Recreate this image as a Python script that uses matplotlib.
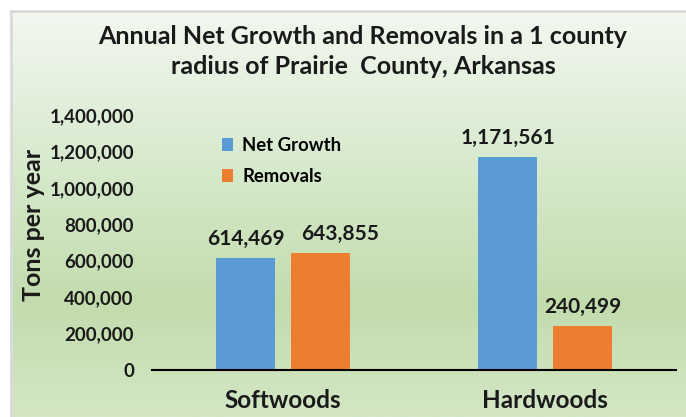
import matplotlib.pyplot as plt
import matplotlib.colors as mcolors
import numpy as np

# Dane wykresu
kategorie = ["Softwoods", "Hardwoods"]
net_growth = [614469, 1171561]
removals = [643855, 240499]
serie = ["Net Growth", "Removals"]
yticks = [0, 200000, 400000, 600000, 800000, 1000000, 1200000, 1400000]

plt.rcParams['font.family'] = ['Lato', 'DejaVu Sans']
plt.rcParams['font.weight'] = 'bold'

fig = plt.figure(figsize=(6.86, 4.17), dpi=100)
W, H = 686, 417

# Tło z gradientem (ramka wykresu)
bg = fig.add_axes([11 / W, 0, 1 - 11 / W, (H - 11) / H], zorder=0)
cmap = mcolors.LinearSegmentedColormap.from_list(
    "g", [(0.0, "#d3e7c5"), (0.28, "#c2dcad"), (0.6, "#d5e9cb"), (1.0, "#f3f7f0")])
grad = np.linspace(0, 1, 256).reshape(-1, 1)
bg.imshow(grad, aspect="auto", cmap=cmap, origin="lower", extent=[0, 1, 0, 1])
bg.set_xlim(0, 1)
bg.set_ylim(0, 1)
for s in ["top", "bottom", "right"]:
    bg.spines[s].set_visible(False)
bg.spines["left"].set_color("#d9d9d9")
bg.spines["left"].set_linewidth(2)
bg.plot([0, 1], [1, 1], color="#d9d9d9", lw=2, clip_on=False)
bg.set_xticks([])
bg.set_yticks([])

ax = fig.add_axes([152 / W, 47 / H, 524 / W, 255 / H], zorder=1)
ax.patch.set_alpha(0)

x = np.arange(len(kategorie))
w = 0.222
off = 0.143
b1 = ax.bar(x - off, net_growth, w, color="#5b9bd5", label=serie[0])
b2 = ax.bar(x + off, removals, w, color="#ed7d31", label=serie[1])

# etykiety wartości (jedna przesunięta w prawo, żeby nie nachodziła na sąsiednią)
przesun = {(1, 0): 20}
for i, bars in enumerate((b1, b2)):
    for j, b in enumerate(bars):
        ax.annotate(f"{int(b.get_height()):,}",
                    (b.get_x() + b.get_width() / 2, b.get_height()),
                    xytext=(przesun.get((i, j), 0), 9), textcoords="offset pixels",
                    ha="center", va="bottom",
                    fontsize=15, fontweight="bold", color="#1a1a1a")

ax.set_xlim(-0.5, 1.5)
ax.set_ylim(0, 1400000)
ax.set_yticks(yticks)
ax.set_yticklabels([f"{v:,}" for v in yticks], fontsize=13.5, fontweight="bold", color="#1a1a1a")
ax.set_xticks(x)
ax.set_xticklabels(kategorie, fontsize=17.5, fontweight="bold", color="#1a1a1a")
ax.tick_params(axis="both", length=0)
ax.tick_params(axis="y", pad=13)
ax.tick_params(axis="x", pad=14)
for s in ["top", "right", "left"]:
    ax.spines[s].set_visible(False)
ax.spines["bottom"].set_linewidth(1.5)
ax.spines["bottom"].set_color("black")

ax.set_ylabel("Tons per year", fontsize=18, fontweight="bold", color="#1a1a1a")
ax.yaxis.set_label_coords(-0.205, 0.57)

ax.legend(loc="upper left", bbox_to_anchor=(0.102, 0.98), frameon=False,
          handlelength=0.6, handleheight=0.7, handletextpad=0.5,
          labelspacing=0.75, prop={"weight": "bold", "size": 13.3})

fig.text(363 / W, 1 - 36 / H, "Annual Net Growth and Removals in a 1 county",
         ha="center", va="center", fontsize=18, fontweight="bold", color="#1a1a1a")
fig.text(363 / W, 1 - 66 / H, "radius of Prairie  County, Arkansas",
         ha="center", va="center", fontsize=18, fontweight="bold", color="#1a1a1a")

fig.savefig("out.png", dpi=100)
